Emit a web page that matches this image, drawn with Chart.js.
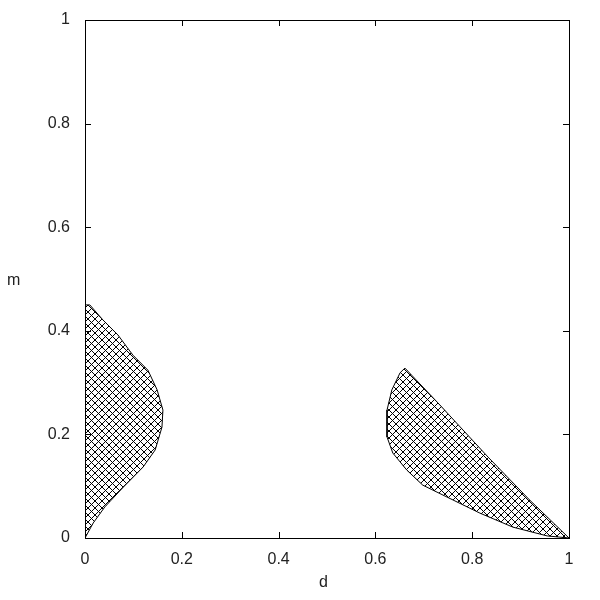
<!DOCTYPE html>
<html>
<head>
<meta charset="utf-8">
<script src="https://cdn.jsdelivr.net/npm/chart.js@4"></script>
<style>
  body { margin: 0; background: #fff; }
  #wrap { position: relative; width: 600px; height: 600px; }
  .lbl { position: absolute; font: 16px "Liberation Sans", Arial, sans-serif; line-height: 16px; color: #222; }
</style>
</head>
<body>
<div id="wrap">
  <canvas id="chart" width="600" height="600"></canvas>
  <div class="lbl" style="left:7px;top:272px">m</div>
  <div class="lbl" style="left:319px;top:574px">d</div>
</div>
<script>
// -- data: outline of the two hatched regions (d, m) --
const leftD  = [0, 0.010, 0.037, 0.068, 0.099, 0.130, 0.149, 0.161, 0.159, 0.145, 0.120, 0.079, 0.041, 0.017, 0, 0];
const leftM  = [0.450, 0.450, 0.421, 0.392, 0.353, 0.324, 0.286, 0.247, 0.214, 0.170, 0.137, 0.098, 0.060, 0.029, 0, 0.450];

const rightD = [0.661, 0.651, 0.634, 0.624, 0.624, 0.636, 0.665, 0.698, 0.748, 0.816, 0.884, 0.955, 1.000, 0.919, 0.833, 0.729, 0.661];
const rightM = [0.328, 0.319, 0.286, 0.247, 0.195, 0.164, 0.131, 0.102, 0.079, 0.048, 0.021, 0.004, 0.000, 0.073, 0.156, 0.261, 0.328];

const axisTicks = [0, 0.2, 0.4, 0.6, 0.8, 1];
const tickLabels = ['0', '0.2', '0.4', '0.6', '0.8', '1'];

const toPoints = (xs, ys) => xs.map((x, i) => ({ x: x, y: ys[i] }));

// crosshatch pattern
function makeHatch(size) {
  const c = document.createElement('canvas');
  c.width = size; c.height = size;
  const g = c.getContext('2d');
  const img = g.createImageData(size, size);
  for (let y = 0; y < size; y++) {
    for (let x = 0; x < size; x++) {
      const k = (y * size + x) * 4;
      const on = (x + y) % size === 0 || ((x - y) % size + size) % size === 0;
      img.data[k] = img.data[k + 1] = img.data[k + 2] = 0;
      img.data[k + 3] = on ? 255 : 0;
    }
  }
  g.putImageData(img, 0, 0);
  return g.createPattern(c, 'repeat');
}

// frame + inward ticks on all four sides
const framePlugin = {
  id: 'frame',
  afterDraw(chart) {
    const { ctx, chartArea: a, scales } = chart;
    ctx.save();
    ctx.strokeStyle = '#000';
    ctx.lineWidth = 1;
    ctx.strokeRect(Math.round(a.left) + 0.5, Math.round(a.top) + 0.5,
                   Math.round(a.right - a.left), Math.round(a.bottom - a.top));
    ctx.beginPath();
    axisTicks.forEach(v => {
      const px = Math.round(scales.x.getPixelForValue(v)) + 0.5;
      const py = Math.round(scales.y.getPixelForValue(v)) + 0.5;
      ctx.moveTo(px, a.bottom); ctx.lineTo(px, a.bottom - 6);
      ctx.moveTo(px, a.top);    ctx.lineTo(px, a.top + 6);
      ctx.moveTo(a.left, py);   ctx.lineTo(a.left + 6, py);
      ctx.moveTo(a.right, py);  ctx.lineTo(a.right - 6, py);
    });
    ctx.stroke();
    ctx.restore();
  }
};

const hatch = makeHatch(7);
const font = { family: '"Liberation Sans", Arial, sans-serif', size: 16 };
const labelFor = v => tickLabels[axisTicks.indexOf(v)] ?? String(v);

new Chart(document.getElementById('chart').getContext('2d'), {
  type: 'scatter',
  data: {
    datasets: [
      { data: toPoints(leftD, leftM) },
      { data: toPoints(rightD, rightM) }
    ].map(ds => Object.assign(ds, {
      showLine: true,
      fill: 'shape',
      backgroundColor: hatch,
      borderColor: '#000',
      borderWidth: 1,
      pointRadius: 0,
      tension: 0
    }))
  },
  options: {
    responsive: false,
    animation: false,
    layout: { padding: { top: 20, right: 31, left: 0, bottom: 0 } },
    plugins: { legend: { display: false }, tooltip: { enabled: false } },
    scales: {
      x: {
        type: 'linear', min: 0, max: 1,
        afterFit: s => { s.height = 62; s.paddingLeft = 0; s.paddingRight = 0; },
        afterBuildTicks: s => { s.ticks = axisTicks.map(v => ({ value: v })); },
        grid: { display: false, drawTicks: false },
        border: { display: false },
        ticks: { padding: 12, color: '#222', font: font, maxRotation: 0, callback: labelFor }
      },
      y: {
        type: 'linear', min: 0, max: 1,
        afterFit: s => { s.width = 85; s.paddingTop = 0; s.paddingBottom = 0; },
        afterBuildTicks: s => { s.ticks = axisTicks.map(v => ({ value: v })); },
        grid: { display: false, drawTicks: false },
        border: { display: false },
        ticks: { padding: 15, color: '#222', font: font, callback: labelFor }
      }
    }
  },
  plugins: [framePlugin]
});
</script>
</body>
</html>
